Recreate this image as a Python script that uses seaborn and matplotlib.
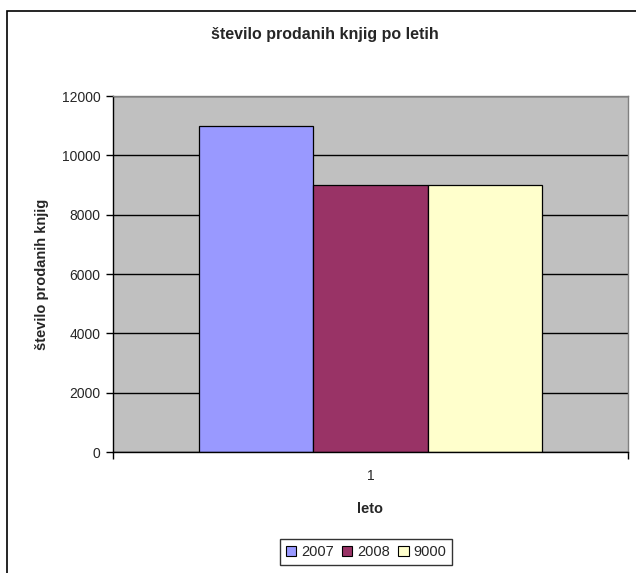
import pandas as pd
import matplotlib.pyplot as plt
import matplotlib.patches as mpatches
import seaborn as sns

# chart data
categories = ["1"]
series = ["2007", "2008", "9000"]
values = [11000, 9000, 9000]
colors = ["#9999FF", "#993366", "#FFFFCC"]

title = "število prodanih knjig po letih"
x_label = "leto"
y_label = "število prodanih knjig"
y_ticks = [0, 2000, 4000, 6000, 8000, 10000, 12000]

df = pd.DataFrame({
    "leto": categories * len(series),
    "serija": series,
    "vrednost": values,
})

sns.set_style("white")
plt.rcParams['font.family'] = ['Liberation Sans', 'DejaVu Sans']

fig = plt.figure(figsize=(6.36, 5.73), dpi=100)
ax = fig.add_axes([113 / 636, 1 - 452 / 573, (628 - 113) / 636, (452 - 96) / 573])
ax.set_facecolor("#C0C0C0")
ax.set_axisbelow(True)

sns.barplot(data=df, x="leto", y="vrednost", hue="serija", hue_order=series,
            palette=colors, width=343 / 515, saturation=1, edgecolor="black",
            linewidth=0.9, legend=False, ax=ax)

ax.set_xlim(-0.5, 0.5)
ax.set_ylim(0, 12000)
ax.set_yticks(y_ticks)
ax.set_yticklabels([str(t) for t in y_ticks], fontsize=10)
ax.yaxis.grid(True, color="black", linewidth=1)
ax.tick_params(axis="y", direction="out", length=5, width=1, color="black", left=True, pad=4)
ax.tick_params(axis="x", which="major", length=0, labelsize=10, pad=12)
ax.set_xticks([-0.5, 0.5], minor=True)
ax.tick_params(axis="x", which="minor", direction="out", length=5, width=1, color="black", bottom=True)

for side in ["left", "bottom"]:
    ax.spines[side].set_color("black")
    ax.spines[side].set_linewidth(1)
for side in ["top", "right"]:
    ax.spines[side].set_visible(True)
    ax.spines[side].set_color("#808080")
    ax.spines[side].set_linewidth(1)

ax.set_xlabel(x_label, fontsize=10.5, fontweight="bold", labelpad=14)
ax.set_ylabel(y_label, fontsize=10.5, fontweight="bold", labelpad=9)

fig.text(325 / 636, 1 - 35 / 573, title, ha="center", va="center", fontsize=11.5, fontweight="bold")

# legend
handles = [mpatches.Patch(facecolor=c, edgecolor="black", linewidth=0.8, label=s)
           for s, c in zip(series, colors)]
leg = fig.legend(handles=handles, loc="center", bbox_to_anchor=(366 / 636, 1 - 552 / 573),
                 ncol=3, frameon=True, fancybox=False, fontsize=10.5, handlelength=0.7,
                 handleheight=0.7, handletextpad=0.3, columnspacing=0.6, borderpad=0.4,
                 borderaxespad=0)
leg.get_frame().set_edgecolor("black")
leg.get_frame().set_linewidth(1)

# outer chart border
border = mpatches.Rectangle((7 / 636, -0.05), 1.0, 1 - 11 / 573 + 0.05, transform=fig.transFigure,
                            fill=False, edgecolor="black", linewidth=1.2)
fig.patches.append(border)

fig.savefig("out.png", dpi=100)
